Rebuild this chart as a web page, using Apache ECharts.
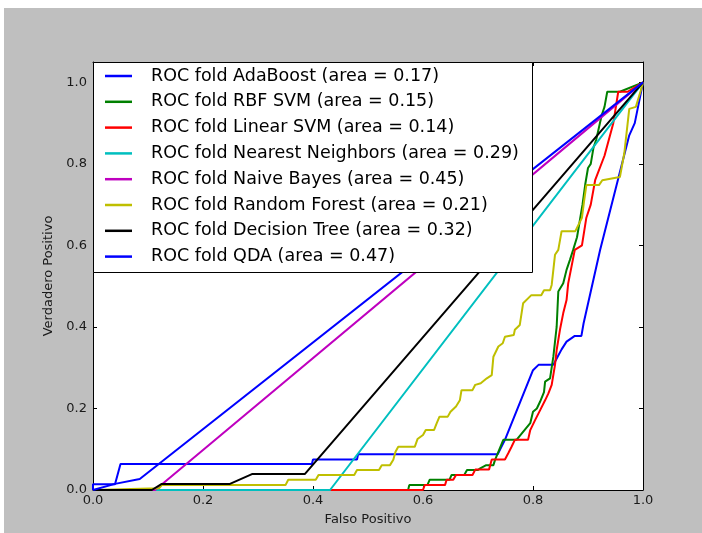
<!DOCTYPE html>
<html><head><meta charset="utf-8">
<script src="https://cdn.jsdelivr.net/npm/echarts@6/dist/echarts.min.js"></script>
<style>html,body{margin:0;padding:0;background:#fff}#c{width:702px;height:533px}</style>
</head><body><div id="c"></div>
<script>
// ---- data ----
const seriesNames = [
  'ROC fold AdaBoost (area = 0.17)',
  'ROC fold RBF SVM (area = 0.15)',
  'ROC fold Linear SVM (area = 0.14)',
  'ROC fold Nearest Neighbors (area = 0.29)',
  'ROC fold Naive Bayes (area = 0.45)',
  'ROC fold Random Forest (area = 0.21)',
  'ROC fold Decision Tree (area = 0.32)',
  'ROC fold QDA (area = 0.47)'
];
const seriesColors = ['#0000ff','#008000','#ff0000','#00bfbf','#bf00bf','#bfbf00','#000000','#0000ff'];
const xTickValues = [0, 0.2, 0.4, 0.6, 0.8, 1.0];
const yTickValues = [0, 0.2, 0.4, 0.6, 0.8, 1.0];

const adaBoost = [[0,0],[0,0.014],[0.04,0.014],[0.05,0.064],[0.398,0.064],[0.4,0.075],[0.48,0.075],[0.482,0.088],[0.736,0.088],[0.749,0.123],[0.8,0.294],[0.81,0.307],[0.837,0.307],[0.846,0.33],[0.852,0.345],[0.861,0.364],[0.876,0.378],[0.888,0.378],[0.892,0.409],[0.922,0.589],[0.975,0.87],[0.985,0.9],[1,1]];
const rbfSvm = [[0,0],[0.573,0],[0.575,0.012],[0.608,0.012],[0.612,0.025],[0.648,0.025],[0.652,0.037],[0.675,0.037],[0.68,0.049],[0.7,0.049],[0.704,0.053],[0.715,0.061],[0.728,0.061],[0.731,0.074],[0.746,0.123],[0.77,0.123],[0.795,0.164],[0.8,0.192],[0.807,0.2],[0.813,0.217],[0.82,0.24],[0.822,0.266],[0.831,0.274],[0.837,0.327],[0.843,0.4],[0.846,0.487],[0.855,0.507],[0.861,0.54],[0.867,0.564],[0.873,0.589],[0.88,0.62],[0.885,0.66],[0.89,0.7],[0.895,0.75],[0.9,0.79],[0.905,0.8],[0.91,0.84],[0.915,0.86],[0.92,0.89],[0.925,0.92],[0.93,0.94],[0.935,0.977],[0.958,0.977],[1,1]];
const linearSvm = [[0,0],[0.6,0],[0.603,0.012],[0.64,0.012],[0.643,0.025],[0.655,0.025],[0.66,0.037],[0.69,0.037],[0.695,0.05],[0.72,0.05],[0.725,0.075],[0.749,0.075],[0.755,0.09],[0.761,0.106],[0.767,0.123],[0.791,0.123],[0.795,0.147],[0.804,0.172],[0.813,0.196],[0.822,0.22],[0.828,0.237],[0.834,0.258],[0.84,0.307],[0.843,0.343],[0.849,0.393],[0.855,0.434],[0.861,0.466],[0.864,0.507],[0.87,0.548],[0.876,0.589],[0.889,0.6],[0.897,0.668],[0.905,0.7],[0.913,0.76],[0.93,0.82],[0.946,0.9],[0.955,0.977],[0.972,0.977],[1,1]];
const nearestNeighbors = [[0,0],[0.431,0],[1,1]];
const naiveBayes = [[0,0],[0.113,0],[1,1]];
const randomForest = [[0,0],[0.12,0.004],[0.125,0.012],[0.35,0.012],[0.355,0.025],[0.405,0.025],[0.41,0.037],[0.475,0.037],[0.48,0.049],[0.52,0.049],[0.525,0.061],[0.54,0.061],[0.546,0.074],[0.55,0.094],[0.555,0.106],[0.585,0.106],[0.59,0.125],[0.6,0.135],[0.605,0.147],[0.62,0.147],[0.625,0.164],[0.63,0.18],[0.645,0.18],[0.65,0.192],[0.66,0.205],[0.667,0.22],[0.67,0.245],[0.69,0.245],[0.695,0.258],[0.705,0.262],[0.716,0.274],[0.725,0.282],[0.728,0.327],[0.737,0.352],[0.745,0.36],[0.749,0.376],[0.765,0.38],[0.767,0.393],[0.776,0.405],[0.782,0.458],[0.797,0.478],[0.815,0.478],[0.82,0.49],[0.831,0.49],[0.834,0.503],[0.84,0.577],[0.846,0.589],[0.852,0.635],[0.877,0.635],[0.889,0.668],[0.893,0.71],[0.897,0.748],[0.92,0.748],[0.926,0.76],[0.958,0.768],[0.966,0.826],[0.975,0.935],[0.987,0.94],[0.996,0.98],[1,1]];
const decisionTree = [[0,0],[0.107,0],[0.125,0.015],[0.249,0.015],[0.289,0.039],[0.385,0.039],[1,1]];
const qda = [[0,0],[0.04,0.015],[0.085,0.027],[1,1]];
const seriesData = [adaBoost, rbfSvm, linearSvm, nearestNeighbors, naiveBayes, randomForest, decisionTree, qda];

// ---- chart ----
const FONT = 'DejaVu Sans';
const chart = echarts.init(document.getElementById('c'), null, {renderer: 'canvas'});
const fmt = v => (v > 1.001 ? '' : v.toFixed(1));
const tickStyle = {inside: true, length: 4, lineStyle: {color: '#000', width: 1}};
const lineAx = {show: true, onZero: false, lineStyle: {color: '#000', width: 1}};
const grid = {left: 93, top: 62, width: 550, height: 428, show: true, backgroundColor: '#fff', borderWidth: 0, containLabel: false};

const option = {
  animation: false,
  backgroundColor: '#bfbfbf',
  grid: grid,
  xAxis: [
    {type: 'value', min: 0, max: 1, interval: 0.2, position: 'bottom',
     axisLine: lineAx, axisTick: tickStyle, splitLine: {show: false},
     axisLabel: {formatter: fmt, color: '#1a1a1a', fontFamily: FONT, fontSize: 13, margin: 4},
     name: 'Falso Positivo', nameLocation: 'middle', nameGap: 23,
     nameTextStyle: {color: '#1a1a1a', fontFamily: FONT, fontSize: 13}},
    {type: 'value', min: 0, max: 1, interval: 0.2, position: 'top',
     axisLine: lineAx, axisTick: tickStyle, splitLine: {show: false}, axisLabel: {show: false}}
  ],
  yAxis: [
    {type: 'value', min: 0, max: 1.05, interval: 0.2, position: 'left',
     axisLine: lineAx, axisTick: tickStyle, splitLine: {show: false},
     axisLabel: {formatter: fmt, color: '#1a1a1a', fontFamily: FONT, fontSize: 13, margin: 6},
     name: 'Verdadero Positivo', nameLocation: 'middle', nameGap: 38,
     nameTextStyle: {color: '#1a1a1a', fontFamily: FONT, fontSize: 13}},
    {type: 'value', min: 0, max: 1.05, interval: 0.2, position: 'right',
     axisLine: lineAx, axisTick: tickStyle, splitLine: {show: false}, axisLabel: {show: false}}
  ],
  legend: {
    orient: 'vertical', left: 105, top: 65.5, padding: 0,
    itemWidth: 27, itemHeight: 2.5, itemGap: 4.8, icon: 'rect',
    selectedMode: false, z: 5,
    textStyle: {fontFamily: FONT, fontSize: 17.5, lineHeight: 21, color: '#000', padding: [0, 0, 0, 14]},
    data: seriesNames
  },
  graphic: [
    {type: 'rect', z: -10, silent: true, shape: {x: 0, y: 0, width: 702, height: 8},
     style: {fill: '#fff'}},
    {type: 'rect', z: -10, silent: true, shape: {x: 0, y: 0, width: 4, height: 533},
     style: {fill: '#fff'}},
    {type: 'rect', z: 3, silent: true, shape: {x: 93.5, y: 62.5, width: 439, height: 210},
     style: {fill: '#fff', stroke: '#000', lineWidth: 1}}
  ],
  series: seriesNames.map((n, i) => ({
    name: n, type: 'line', data: seriesData[i], color: seriesColors[i],
    showSymbol: false, symbol: 'none', clip: true, z: 2,
    lineStyle: {color: seriesColors[i], width: 2}
  }))
};
chart.setOption(option);
</script></body></html>
